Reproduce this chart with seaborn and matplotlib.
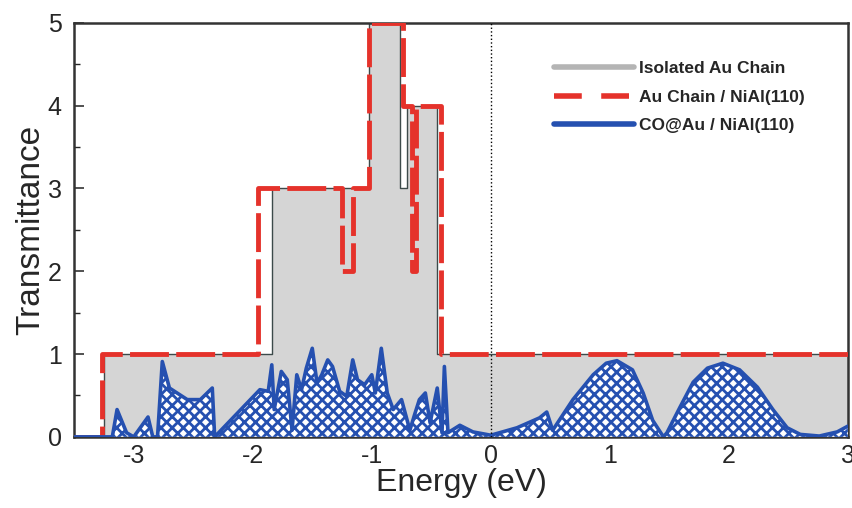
import numpy as np
import pandas as pd
import seaborn as sns
import matplotlib.pyplot as plt
from matplotlib.ticker import MultipleLocator
from matplotlib.lines import Line2D

# isolated Au chain (step function)
iso_edges = [-3.5, -3.25, -1.84, -1.02, -0.76, -0.70, -0.45, 3.0]
iso_vals = [0, 1, 3, 5, 3, 4, 1]

# Au chain on NiAl(110) (step function)
chain_edges = [-3.5, -3.27, -1.96, -1.25, -1.16, -1.02, -0.74, -0.66, -0.63, -0.42, 3.0]
chain_vals = [0, 1, 3, 2, 3, 5, 4, 2, 4, 1]

# CO@Au / NiAl(110)
co_energy = [-3.50, -3.18, -3.14, -3.06, -3.00, -2.88, -2.84, -2.80, -2.76, -2.70,
             -2.55, -2.44, -2.34, -2.32, -1.94, -1.87, -1.84, -1.82, -1.76, -1.71,
             -1.67, -1.63, -1.59, -1.55, -1.50, -1.46, -1.42, -1.37, -1.33, -1.27,
             -1.21, -1.16, -1.12, -1.06, -1.00, -0.97, -0.92, -0.87, -0.82, -0.75,
             -0.68, -0.64, -0.60, -0.55, -0.51, -0.45, -0.41, -0.39, -0.36, -0.26,
             -0.15, 0.00, 0.22, 0.41, 0.47, 0.52, 0.69, 0.86, 0.97, 1.06,
             1.19, 1.28, 1.36, 1.45, 1.48, 1.59, 1.70, 1.82, 1.95, 2.09,
             2.24, 2.37, 2.49, 2.60, 2.76, 2.91, 3.00]
co_trans = [0.0, 0.0, 0.33, 0.05, 0.0, 0.24, 0.0, 0.0, 0.91, 0.59,
            0.45, 0.45, 0.59, 0.0, 0.57, 0.55, 0.87, 0.33, 0.79, 0.69,
            0.08, 0.75, 0.57, 0.83, 1.07, 0.65, 0.75, 0.93, 0.85, 0.55,
            0.49, 0.93, 0.69, 0.63, 0.75, 0.53, 1.07, 0.53, 0.33, 0.45,
            0.08, 0.27, 0.45, 0.53, 0.17, 0.59, 0.05, 0.85, 0.05, 0.14,
            0.06, 0.02, 0.11, 0.23, 0.30, 0.08, 0.45, 0.75, 0.89, 0.92,
            0.81, 0.53, 0.20, 0.0, 0.05, 0.36, 0.66, 0.83, 0.89, 0.81,
            0.60, 0.33, 0.11, 0.03, 0.01, 0.06, 0.13]

labels = ['Isolated Au Chain', 'Au Chain / NiAl(110)', 'CO@Au / NiAl(110)']

gray_fill = '#d5d5d5'
red = '#e5322b'
blue = '#2550b0'

sns.set_style('ticks')
plt.rcParams['font.family'] = ['Liberation Sans', 'DejaVu Sans']
plt.rcParams['hatch.linewidth'] = 2.0
plt.rcParams['hatch.color'] = blue

iso = pd.DataFrame({'E': iso_edges, 'T': iso_vals + [iso_vals[-1]]})
chain = pd.DataFrame({'E': chain_edges, 'T': chain_vals + [chain_vals[-1]]})
co = pd.DataFrame({'E': co_energy, 'T': co_trans})

fig = plt.figure(figsize=(8.53, 5.08), dpi=100)
ax = fig.add_axes([0.087, 0.14, 0.907, 0.815])

# isolated chain: gray filled step
ax.fill_between(iso['E'], iso['T'], step='post', color=gray_fill, lw=0, zorder=1)
sns.lineplot(data=iso, x='E', y='T', ax=ax, drawstyle='steps-post',
             color='#3c4a4a', lw=1.0, zorder=2, estimator=None, sort=False)

# CO@Au hatched fill
ax.fill_between(co['E'], co['T'], facecolor='white', edgecolor=blue,
                hatch='xxx', lw=0, zorder=3)
sns.lineplot(data=co, x='E', y='T', ax=ax, color=blue, lw=2.6, zorder=5,
             estimator=None, sort=False)

# Au chain on NiAl: red dashed step
sns.lineplot(data=chain, x='E', y='T', ax=ax, drawstyle='steps-post',
             color=red, lw=3.5, dashes=False, zorder=4, estimator=None, sort=False)
ax.lines[-1].set_dashes([8, 1.5])

ax.axvline(0, color='black', ls=':', lw=1.0, zorder=6)

ax.set_xlim(-3.5, 3.0)
ax.set_ylim(0, 5)
ax.xaxis.set_major_locator(MultipleLocator(1))
ax.yaxis.set_major_locator(MultipleLocator(1))
ax.yaxis.set_minor_locator(MultipleLocator(0.5))
ax.tick_params(axis='both', which='major', direction='in', length=7, width=1.2,
               labelsize=18, color='#333333')
ax.tick_params(axis='y', which='major', pad=9)
ax.tick_params(axis='x', which='major', pad=5)
ax.tick_params(axis='y', which='minor', direction='in', length=4, width=1.0)
ax.set_xticklabels([f'{v:g}' for v in ax.get_xticks()])
for s in ax.spines.values():
    s.set_visible(True)
    s.set_linewidth(1.8)
    s.set_color('#333333')

ax.set_xlabel('Energy (eV)', fontsize=23, labelpad=0)
ax.set_ylabel('Transmittance', fontsize=24, labelpad=1)

handles = [
    Line2D([], [], color='#b4b4b4', lw=4),
    Line2D([], [], color=red, lw=4, dashes=[5, 3.5]),
    Line2D([], [], color=blue, lw=4),
]
leg = ax.legend(handles, labels, loc='upper left', bbox_to_anchor=(0.6, 0.945),
                frameon=False, handlelength=4.6, handletextpad=0.3,
                labelspacing=0.75, prop={'weight': 'bold', 'size': 12.5})

fig.savefig('out.png', dpi=100)
